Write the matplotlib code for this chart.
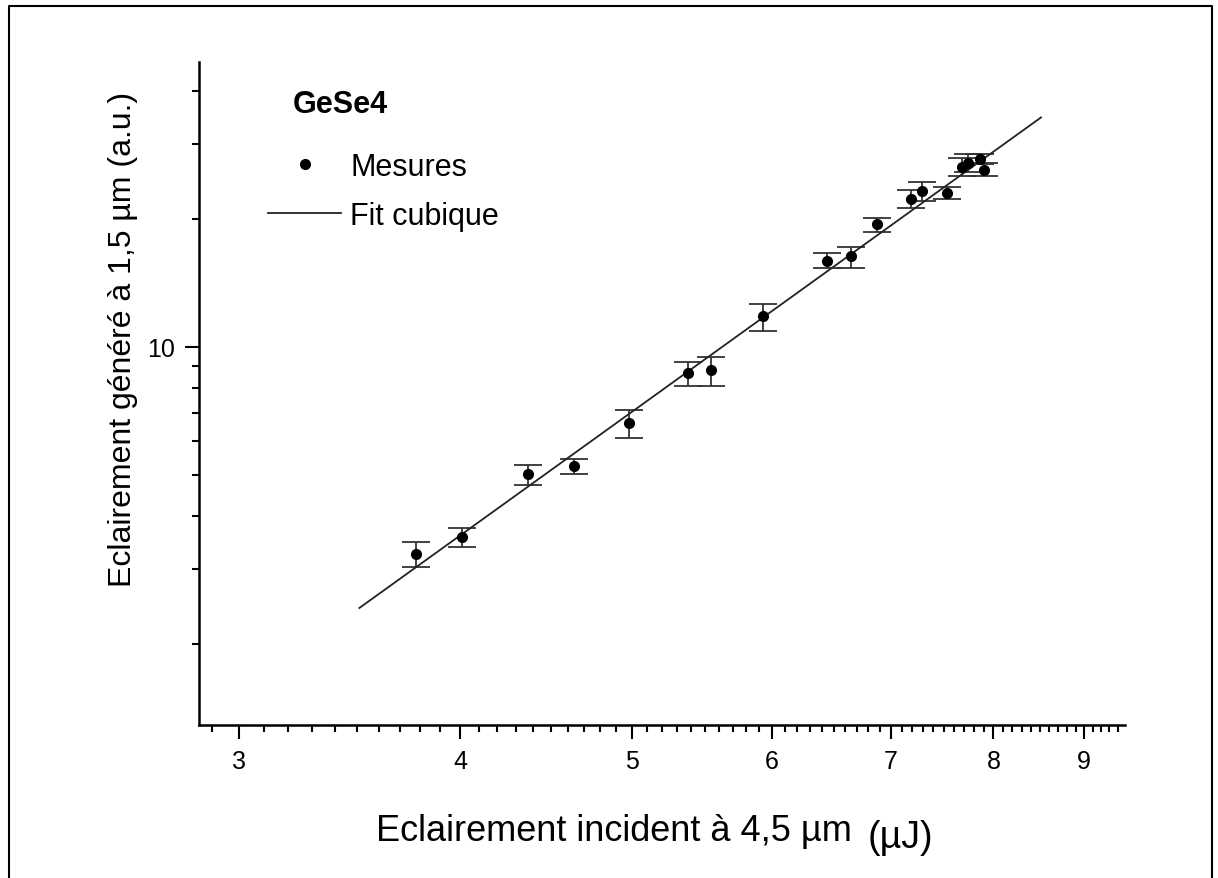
import numpy as np
import matplotlib.pyplot as plt
from matplotlib.lines import Line2D
from matplotlib.ticker import NullFormatter

plt.rcParams['font.family'] = ['Liberation Sans', 'DejaVu Sans']

# GeSe4 : energie incidente (uJ) et eclairement genere (u.a.)
energie = [3.78, 4.01, 4.37, 4.64, 4.98, 5.38, 5.54, 5.93, 6.44,
           6.65, 6.88, 7.19, 7.29, 7.53, 7.68, 7.74, 7.86, 7.90]
signal = [3.25, 3.57, 5.01, 5.24, 6.63, 8.66, 8.83, 11.8, 15.9,
          16.3, 19.4, 22.3, 23.2, 23.0, 26.4, 27.1, 27.7, 26.0]
sig_haut = [3.48, 3.74, 5.27, 5.44, 7.11, 9.19, 9.47, 12.6, 16.6,
            17.2, 20.1, 23.4, 24.4, 23.7, 27.8, 28.4, 28.4, 27.1]
sig_bas = [3.03, 3.38, 4.74, 5.02, 6.10, 8.10, 8.08, 10.9, 15.3,
           15.3, 18.6, 21.2, 22.0, 22.2, 25.2, 25.8, 26.9, 25.2]

# fit cubique (droite de pente 3 en log-log), extremites
fit_x = [3.51, 8.51]
fit_y = [2.43, 34.6]

x_major = [3, 4, 5, 6, 7, 8, 9]
x_minor = [v / 10 for v in range(29, 95) if v % 10 != 0]
y_major = [10]
y_minor = [2, 3, 4, 5, 6, 7, 8, 9, 20, 30, 40]

fig = plt.figure(figsize=(12.18, 8.79), dpi=100)
ax = fig.add_axes([0.1634, 0.1741, 0.7602, 0.7542])

sig = np.array(signal)
yerr = [sig - np.array(sig_bas), np.array(sig_haut) - sig]
ax.errorbar(energie, signal, yerr=yerr, fmt='none', ecolor='#333333',
            elinewidth=1.3, capsize=10, capthick=1.3, zorder=2)
ax.plot(energie, signal, 'o', color='black', ms=7, label='Mesures', zorder=3)
ax.plot(fit_x, fit_y, '-', color='#222222', lw=1.3, label='Fit cubique', zorder=2)

ax.set_xscale('log')
ax.set_yscale('log')
ax.set_xlim(2.85, 9.49)
ax.set_ylim(1.29, 46.7)

ax.set_xticks(x_major)
ax.set_xticklabels([str(v) for v in x_major])
ax.set_xticks(x_minor, minor=True)
ax.xaxis.set_minor_formatter(NullFormatter())
ax.set_yticks(y_major)
ax.set_yticklabels([str(v) for v in y_major])
ax.set_yticks(y_minor, minor=True)
ax.yaxis.set_minor_formatter(NullFormatter())

ax.tick_params(which='major', direction='out', length=10, width=1.5,
               labelsize=18, pad=7)
ax.tick_params(which='minor', direction='out', length=5, width=1.5)
for side in ['top', 'right']:
    ax.spines[side].set_visible(False)
for side in ['left', 'bottom']:
    ax.spines[side].set_linewidth(1.8)

fig.text(0.504, 0.0535, 'Eclairement incident à 4,5 µm', fontsize=26,
         ha='center', va='center')
fig.text(0.739, 0.0466, '(µJ)', fontsize=27, ha='center', va='center')
fig.text(0.1010, 0.614, 'Eclairement généré à 1,5 µm (a.u.)', fontsize=23,
         rotation=90, ha='center', va='center')

fig.text(0.2406, 0.8805, 'GeSe4', fontsize=22, fontweight='bold',
         ha='left', va='center')
ax.legend(loc='upper left', bbox_to_anchor=(0.22, 0.826),
          bbox_transform=fig.transFigure, frameon=False, fontsize=22,
          handlelength=2.4, handletextpad=0.3, labelspacing=0.62,
          borderpad=0, borderaxespad=0)

# cadre autour de la figure
fig.add_artist(Line2D([0.007, 0.007, 0.995, 0.995], [0.0, 0.9926, 0.9926, 0.0],
                      transform=fig.transFigure, color='black', lw=1.5))

fig.savefig('out.png', dpi=100)
